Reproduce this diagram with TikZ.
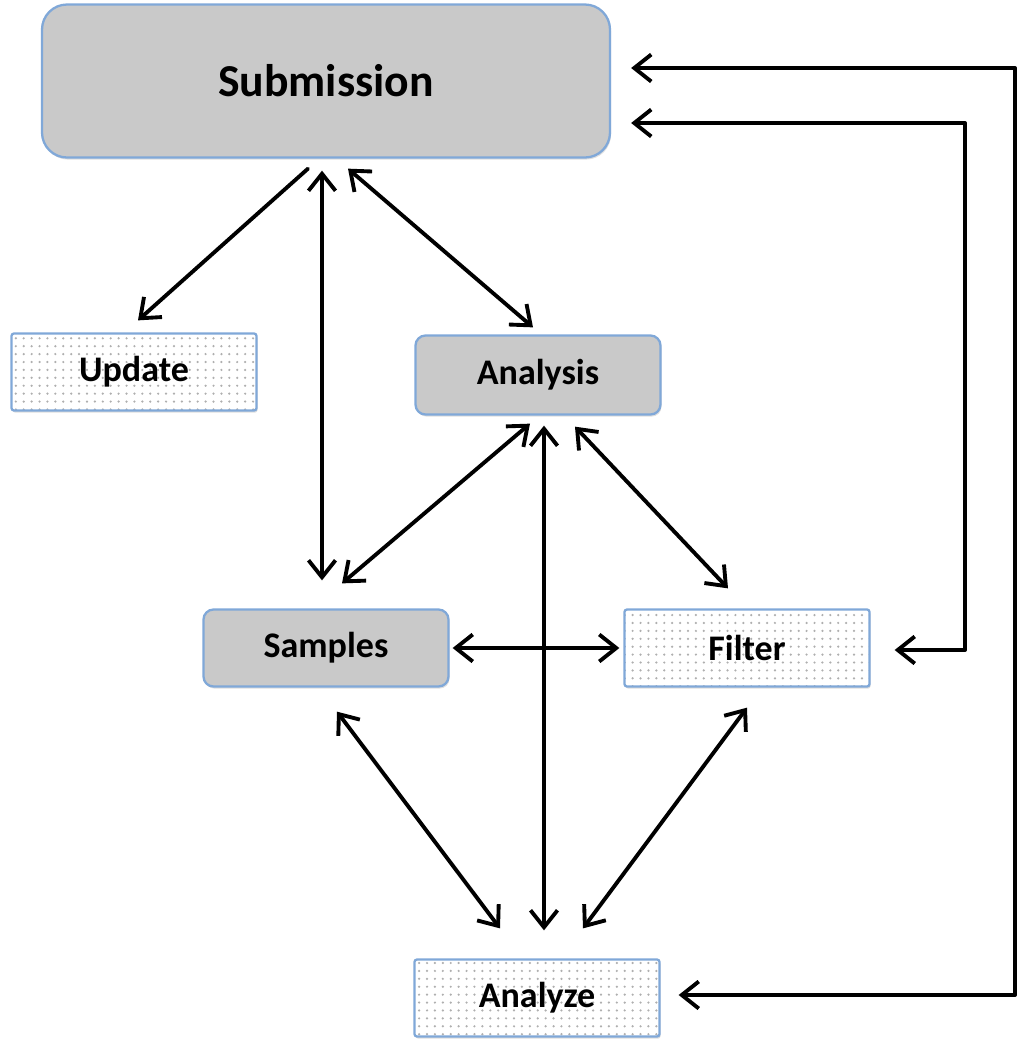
\documentclass[tikz,border=0pt]{standalone}
\usepackage{fontspec}
\setmainfont{Carlito}
\usetikzlibrary{arrows.meta,patterns.meta,shadows}

\begin{document}
\begin{tikzpicture}[
    line cap=round,
    line join=round,
    every node/.style={font=\bfseries\fontsize{20.5}{24}\selectfont},
    box/.style={draw=boxblue, line width=1.3pt, minimum width=4.9cm,
        minimum height=1.54cm, inner sep=0pt,
        drop shadow={opacity=0.25, shadow xshift=0.6pt, shadow yshift=-1.2pt}},
    graybox/.style={box, fill=boxgray, rounded corners=0.2cm},
    dotbox/.style={box, rounded corners=0.05cm, preaction={fill=white},
        pattern={Dots[distance=4.5pt, radius=0.7pt]}, pattern color=dotgray},
    link/.style={line width=2.2pt,
        {Straight Barb[length=3.4mm, width=5.4mm]}-{Straight Barb[length=3.4mm, width=5.4mm]}},
    onelink/.style={line width=2.2pt, -{Straight Barb[length=3.4mm, width=5.4mm]}}
]

\definecolor{boxgray}{RGB}{201,201,201}
\definecolor{boxblue}{RGB}{128,168,216}
\definecolor{dotgray}{RGB}{175,175,175}

\useasboundingbox (0,0) rectangle (20.56,-21);

% -----------------------------
% Boxes
% -----------------------------
\node[graybox, rounded corners=0.5cm, minimum width=11.36cm,
    minimum height=3.06cm, font=\bfseries\fontsize{26}{31}\selectfont]
    (submission) at (6.52,-1.62) {Submission};

\node[dotbox] (update) at (2.68,-7.44) {Update};
\node[graybox, minimum height=1.58cm] (analysis) at (10.76,-7.5) {Analysis};
\node[graybox] (samples) at (6.52,-12.96) {Samples};
\node[dotbox] (filter) at (14.94,-12.96) {Filter};
\node[dotbox] (analyze) at (10.74,-19.96) {Analyze};

% return lines on the right
\coordinate (busout) at (20.3,0);
\coordinate (busin) at (19.3,0);
\coordinate (s1) at ([xshift=0.4cm,yshift=0.26cm]submission.east);
\coordinate (s2) at ([xshift=0.4cm,yshift=-0.84cm]submission.east);
\coordinate (a1) at ([xshift=0.36cm,yshift=0.06cm]analyze.east);
\coordinate (f1) at ([xshift=0.48cm,yshift=-0.04cm]filter.east);

% -----------------------------
% Connectors
% -----------------------------
\draw[onelink]
([xshift=-0.36cm,yshift=-0.2cm]submission.south) --
([xshift=0.08cm,yshift=0.24cm]update.north);

\draw[link]
([xshift=-0.08cm,yshift=-0.24cm]submission.south) --
([xshift=-0.08cm,yshift=0.56cm]samples.north);

\draw[link]
([xshift=0.44cm,yshift=-0.2cm]submission.south) --
([xshift=-0.1cm,yshift=0.14cm]analysis.north);

\draw[link]
([xshift=-0.16cm,yshift=-0.16cm]analysis.south) --
([xshift=0.32cm,yshift=0.5cm]samples.north);

\draw[link]
([xshift=0.12cm,yshift=-0.2cm]analysis.south) --
([xshift=0.14cm,yshift=0.56cm]analyze.north);

\draw[link]
([xshift=0.74cm,yshift=-0.22cm]analysis.south) --
([xshift=-0.38cm,yshift=0.4cm]filter.north);

\draw[link]
([xshift=0.06cm]samples.east) --
([xshift=-0.08cm]filter.west);

\draw[link]
([xshift=0.22cm,yshift=-0.48cm]samples.south) --
([xshift=-0.74cm,yshift=0.6cm]analyze.north);

\draw[link]
([yshift=-0.4cm]filter.south) --
([xshift=0.92cm,yshift=0.6cm]analyze.north);

\draw[link] (s1) -- (s1 -| busout) -- (a1 -| busout) -- (a1);

\draw[link] (s2) -- (s2 -| busin) -- (f1 -| busin) -- (f1);

\end{tikzpicture}
\end{document}
